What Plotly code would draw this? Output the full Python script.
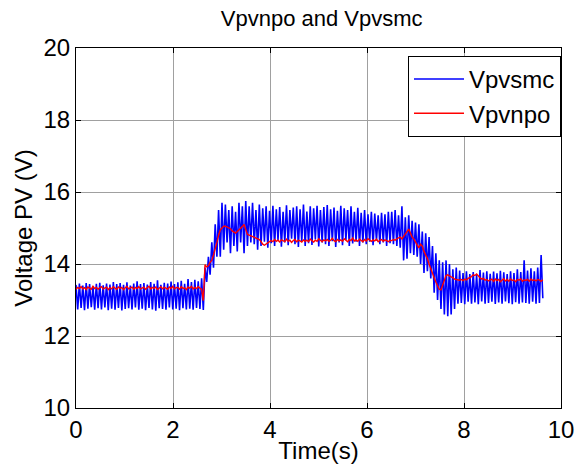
import plotly.graph_objects as go

# sample period of the recorded signals (s)
DT = 0.035

vpvsmc = [
    13.42, 12.74, 13.46, 12.78, 13.40, 12.72, 13.47, 12.76, 13.44, 12.80, 13.38, 12.73, 13.45, 12.77, 13.48, 12.74, 13.41, 12.79, 13.46, 12.72,
    13.43, 12.76, 13.50, 12.73, 13.44, 12.78, 13.47, 12.71, 13.42, 12.75, 13.49, 12.77, 13.40, 12.74, 13.46, 12.79, 13.52, 12.73, 13.44, 12.76,
    13.47, 12.72, 13.43, 12.78, 13.50, 12.74, 13.45, 12.70, 13.55, 12.77, 13.42, 12.75, 13.48, 12.73, 13.46, 12.79, 13.51, 12.74, 13.44, 12.76,
    13.49, 12.72, 13.53, 12.77, 13.45, 12.74, 13.58, 12.76, 13.50, 12.73, 13.56, 12.78, 13.52, 12.75, 13.60,
    12.72,
    13.9, 13.5, 14.2, 13.7, 14.6, 13.9, 15.1, 14.2, 15.5, 14.2,
    15.7, 14.4, 15.65, 14.6, 15.5, 14.3, 15.6, 14.5, 15.45, 14.35, 15.7, 14.6, 15.6, 14.3, 15.75, 14.5, 15.6, 14.6, 15.7, 14.55, 15.5, 14.4,
    15.65, 14.5, 15.55, 14.62, 15.6, 14.45, 15.48, 14.58, 15.62, 14.5, 15.52, 14.66, 15.58, 14.48, 15.45, 14.6, 15.63, 14.52, 15.5, 14.7,
    15.57, 14.55, 15.6, 14.47, 15.52, 14.62, 15.65, 14.5, 15.46, 14.58, 15.6, 14.53, 15.55, 14.68, 15.62, 14.49, 15.5, 14.6, 15.58, 14.55,
    15.64, 14.5, 15.52, 14.63, 15.57, 14.47, 15.48, 14.6, 15.62, 14.52, 15.55, 14.66, 15.5, 14.5, 15.6, 14.57, 15.45, 14.62, 15.56, 14.5,
    15.42, 14.6, 15.5, 14.55, 15.38, 14.62, 15.45, 14.52, 15.4, 14.65, 15.35, 14.55, 15.42, 14.6, 15.38, 14.5, 15.45, 14.58,
    15.45, 14.55, 15.5, 14.5, 15.35, 14.45, 15.6, 14.1, 15.3, 14.15, 15.35, 14.3, 15.2, 14.25, 15.15, 14.2, 15.1, 14.0, 14.9, 13.75,
    14.85, 13.8, 14.75, 13.6, 14.5, 13.2, 14.3, 13.0, 14.1, 12.75, 14.05, 12.6, 14.1, 12.55, 14.0, 12.6, 13.85, 12.75, 13.9, 12.9,
    13.82, 12.92, 13.75, 12.88, 13.8, 12.95, 13.72, 12.9, 13.78, 12.93, 13.7, 12.88, 13.83, 12.96, 13.76, 12.9, 13.8, 12.92, 13.73, 12.95,
    13.79, 12.89, 13.74, 12.93, 13.81, 12.9, 13.77, 12.96, 13.72, 12.91, 13.8, 12.88, 13.75, 12.94, 13.85, 12.9, 13.78, 12.93, 14.1, 12.92,
    13.82, 12.9, 13.88, 12.95, 13.8, 12.9, 13.9, 12.92, 14.25, 13.05,
]

vpvnpo = [
    13.30, 13.35, 13.32, 13.37, 13.31, 13.34, 13.29, 13.36, 13.33, 13.30, 13.38, 13.32, 13.35, 13.30, 13.34, 13.37, 13.31, 13.33, 13.36, 13.29,
    13.34, 13.31, 13.37, 13.33, 13.30, 13.36, 13.32, 13.35, 13.29, 13.34, 13.38, 13.31, 13.33, 13.36, 13.30, 13.35, 13.32, 13.37, 13.31, 13.34,
    13.36, 13.30, 13.33, 13.38, 13.31, 13.35, 13.32, 13.36, 13.29, 13.34, 13.37, 13.31, 13.35, 13.33, 13.30, 13.36, 13.32, 13.38, 13.31, 13.34,
    13.35, 13.30, 13.37, 13.32, 13.34, 13.29, 13.36, 13.33, 13.38, 13.31, 13.35, 13.32, 13.37, 13.33, 13.30,
    12.98,
    13.98, 13.92, 13.95, 14.05, 14.1, 14.25, 14.4, 14.6, 14.8, 14.95,
    15.0, 15.05, 15.05, 15.02, 15.0, 14.98, 14.92, 14.88, 14.86, 14.9, 14.94, 14.98, 15.04, 15.1, 14.95, 14.82, 14.8, 14.78, 14.76, 14.74, 14.72, 14.7,
    14.68, 14.62, 14.55, 14.52, 14.56, 14.6, 14.62,
    14.65, 14.62, 14.68, 14.63, 14.66, 14.61, 14.67, 14.64, 14.62, 14.69, 14.63, 14.66, 14.6, 14.65, 14.68, 14.62, 14.66, 14.64, 14.61, 14.67,
    14.63, 14.66, 14.62, 14.69, 14.64, 14.61, 14.66, 14.63, 14.7, 14.65, 14.62, 14.67, 14.64, 14.68, 14.63, 14.66, 14.71, 14.65, 14.62, 14.68,
    14.64, 14.67, 14.63, 14.7, 14.66, 14.62, 14.68, 14.65, 14.72, 14.64, 14.67, 14.63, 14.69, 14.66, 14.62, 14.68, 14.64, 14.7, 14.65, 14.63,
    14.67, 14.64, 14.69, 14.62, 14.66, 14.68, 14.63, 14.67, 14.65, 14.62, 14.66,
    14.65, 14.68, 14.66, 14.7, 14.72, 14.75, 14.7, 14.78, 14.85, 14.9, 14.97, 14.85, 14.75, 14.7, 14.62, 14.5, 14.45, 14.55, 14.5, 14.35,
    14.25, 14.15, 14.0, 13.85, 13.72, 13.62, 13.5, 13.38, 13.3, 13.28, 13.4, 13.55, 13.68, 13.7, 13.66, 13.64, 13.62, 13.58, 13.57, 13.56,
    13.55, 13.57, 13.54, 13.58, 13.56, 13.6, 13.62, 13.65, 13.7, 13.68, 13.72, 13.66, 13.62, 13.58, 13.6, 13.55, 13.57, 13.53, 13.56, 13.58,
    13.52, 13.58, 13.54, 13.57, 13.51, 13.56, 13.59, 13.53, 13.57, 13.52, 13.58, 13.54, 13.56, 13.51, 13.57, 13.55, 13.59, 13.52, 13.56, 13.54,
    13.57, 13.52, 13.58, 13.54, 13.56, 13.53, 13.57, 13.55, 13.52, 13.56,
]

time_s = [i * DT for i in range(len(vpvsmc))]

x_ticks = [0, 2, 4, 6, 8, 10]
y_ticks = [10, 12, 14, 16, 18, 20]

FONT = "Liberation Sans, Arial, Helvetica, sans-serif"

fig = go.Figure()
fig.add_trace(go.Scatter(x=time_s, y=vpvsmc, mode="lines", name="Vpvsmc",
                         line=dict(color="rgb(0,0,255)", width=1.6)))
fig.add_trace(go.Scatter(x=time_s, y=vpvnpo, mode="lines", name="Vpvnpo",
                         line=dict(color="rgb(255,0,0)", width=1.4)))

axis_common = dict(
    showline=True, linecolor="black", linewidth=1, mirror="ticks",
    ticks="inside", ticklen=5, tickcolor="black",
    showgrid=True, gridcolor="rgb(160,160,160)", gridwidth=1,
    zeroline=False, tickfont=dict(family=FONT, size=24, color="black"),
)

fig.update_layout(
    width=586, height=474,
    margin=dict(l=76, r=18, t=48, b=66),
    paper_bgcolor="white", plot_bgcolor="white",
    title=dict(text="Vpvnpo and Vpvsmc", x=0.549, xanchor="center", y=0.962, yanchor="middle",
               font=dict(family=FONT, size=22, color="black")),
    xaxis=dict(range=[0, 10], tickvals=x_ticks, ticktext=[str(v) for v in x_ticks],
               title=dict(text="Time(s)", font=dict(family=FONT, size=24, color="black"), standoff=0),
               **axis_common),
    yaxis=dict(range=[10, 20], tickvals=y_ticks, ticktext=[str(v) for v in y_ticks],
               title=dict(text="Voltage PV (V)", font=dict(family=FONT, size=24, color="black"), standoff=4),
               **axis_common),
    legend=dict(x=1.0, y=0.978, xanchor="right", yanchor="top",
                bgcolor="white", bordercolor="black", borderwidth=1,
                itemwidth=50, tracegroupgap=0,
                font=dict(family=FONT, size=24, color="black")),
    showlegend=True,
)

fig.write_html("out.html")
